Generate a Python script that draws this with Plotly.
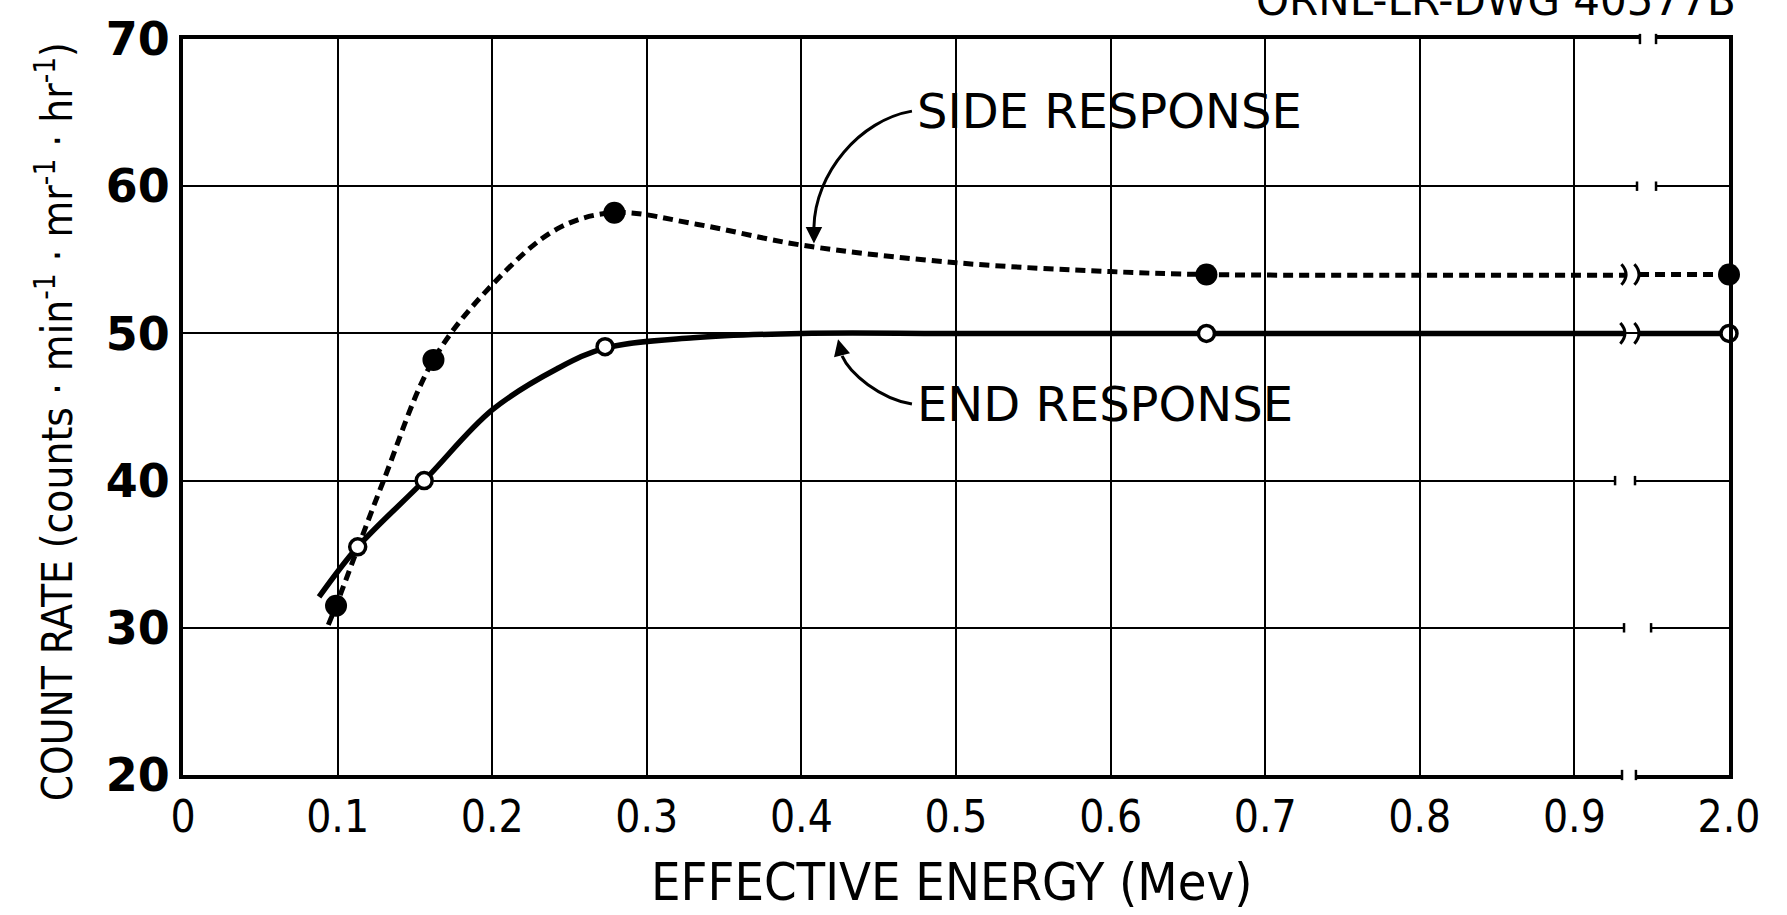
import plotly.graph_objects as go

# ---- axis ticks (the last tick stands for 2.0 MeV, beyond the axis break) ----
x_tick_pos = [0.0, 0.1, 0.2, 0.3, 0.4, 0.5, 0.6, 0.7, 0.8, 0.9, 1.0]
x_tick_labels = ["0", "0.1", "0.2", "0.3", "0.4", "0.5", "0.6", "0.7", "0.8", "0.9", "2.0"]
y_ticks = [20, 30, 40, 50, 60, 70]

# ---- measured points (MeV, counts/min per mr/hr) ----
side_energy = [0.099, 0.162, 0.279, 0.662, 2.0]
side_rate = [31.5, 48.2, 58.2, 54.0, 54.0]
end_energy = [0.113, 0.156, 0.273, 0.662, 2.0]
end_rate = [35.5, 40.0, 49.1, 50.0, 50.0]

# ---- faired curves through the points, left of the axis break ----
side_curve_energy = [0.094, 0.099, 0.129, 0.162, 0.200, 0.242, 0.279, 0.333, 0.400,
                     0.500, 0.600, 0.662, 0.800, 0.9334]
side_curve_rate = [30.2, 31.5, 39.8, 48.2, 53.3, 57.1, 58.2, 57.4, 56.0,
                   54.8, 54.2, 54.0, 53.95, 53.95]
end_curve_energy = [0.088, 0.113, 0.156, 0.200, 0.242, 0.273, 0.330, 0.400, 0.500,
                    0.662, 0.800, 0.9327]
end_curve_rate = [32.1, 35.5, 40.0, 44.8, 47.6, 49.0, 49.7, 50.0, 50.0,
                  50.0, 50.0, 50.0]

BREAK_AXIS_MAX = 1.0   # axis position of the 2.0 MeV tick


def axis_pos(e):
    """Map energy to axis position: values past the break sit at the 2.0 tick."""
    return BREAK_AXIS_MAX if e > 1.0 else e


# where each horizontal line is interrupted: (y, left end, right end)
grid_breaks = [(70, 0.9424, 0.9528), (60, 0.9405, 0.9528), (40, 0.9263, 0.9392),
               (30, 0.9321, 0.9496), (20, 0.9308, 0.9398)]
side_tail_start = 0.9418
end_tail_start = 0.9418

BLACK = "#000000"
COND = "DejaVu Sans Condensed, Liberation Sans Narrow, Roboto, sans-serif"
SANS = "DejaVu Sans, Liberation Sans, sans-serif"

fig = go.Figure()

# side response: dashed curve + filled points
fig.add_trace(go.Scatter(
    x=[axis_pos(e) for e in side_curve_energy], y=side_curve_rate,
    mode="lines", line=dict(color=BLACK, width=5, dash="10px,6px", shape="spline", smoothing=1.0),
    hoverinfo="skip", showlegend=False))
fig.add_trace(go.Scatter(
    x=[side_tail_start, axis_pos(side_energy[-1])], y=[side_rate[-1], side_rate[-1]],
    mode="lines", line=dict(color=BLACK, width=5, dash="10px,6px"),
    hoverinfo="skip", showlegend=False))

# end response: solid curve + open points
fig.add_trace(go.Scatter(
    x=[axis_pos(e) for e in end_curve_energy], y=end_curve_rate,
    mode="lines", line=dict(color=BLACK, width=5.5, shape="spline", smoothing=1.0),
    hoverinfo="skip", showlegend=False))
fig.add_trace(go.Scatter(
    x=[end_tail_start, axis_pos(end_energy[-1])], y=[end_rate[-1], end_rate[-1]],
    mode="lines", line=dict(color=BLACK, width=5.5),
    hoverinfo="skip", showlegend=False))

fig.add_trace(go.Scatter(
    x=[axis_pos(e) for e in side_energy], y=side_rate, mode="markers",
    marker=dict(size=22, color=BLACK, line=dict(width=0)),
    name="SIDE RESPONSE", showlegend=False, cliponaxis=False))
fig.add_trace(go.Scatter(
    x=[axis_pos(e) for e in end_energy], y=end_rate, mode="markers",
    marker=dict(size=16, color="white", line=dict(width=3.5, color=BLACK)),
    name="END RESPONSE", showlegend=False, cliponaxis=False))

shapes = []
# gaps in the grid / frame lines at the axis break
for yv, xl, xr in grid_breaks:
    if yv in (20, 70):
        yc = 0.0 if yv == 20 else 1.0
        shapes.append(dict(type="rect", xref="x", yref="paper", x0=xl, x1=xr,
                           y0=yc - 0.012, y1=yc + 0.012, fillcolor="white",
                           line=dict(width=0), layer="above"))
        for xv in (xl, xr):
            shapes.append(dict(type="line", xref="x", yref="paper", x0=xv, x1=xv,
                               y0=yc - 0.007, y1=yc + 0.007,
                               line=dict(color=BLACK, width=2.5), layer="above"))
    else:
        shapes.append(dict(type="rect", xref="x", yref="y", x0=xl, x1=xr,
                           y0=yv - 0.3, y1=yv + 0.3, fillcolor="white",
                           line=dict(width=0), layer="above"))
        for xv in (xl, xr):
            shapes.append(dict(type="line", xref="x", yref="y", x0=xv, x1=xv,
                               y0=yv - 0.32, y1=yv + 0.32,
                               line=dict(color=BLACK, width=2.5), layer="above"))

# ")" marks where the response curves are interrupted
curve_breaks = [(side_curve_energy[-1], side_rate[-1]), (side_tail_start, side_rate[-1]),
                (end_curve_energy[-1], end_rate[-1]), (end_tail_start, end_rate[-1])]
for xv, yv in curve_breaks:
    shapes.append(dict(type="path", xref="x", yref="y",
                       path=f"M {xv - 0.003},{yv + 0.7} Q {xv + 0.003},{yv} {xv - 0.003},{yv - 0.7}",
                       line=dict(color=BLACK, width=3), layer="above"))

# curved leader lines from the labels to the curves
shapes.append(dict(type="path", xref="x", yref="y",
                   path="M 0.4715,65.1 C 0.4379,64.5 0.4088,60.9 0.4081,57.2",
                   line=dict(color=BLACK, width=3)))
shapes.append(dict(type="path", xref="x", yref="y",
                   path="M 0.4715,45.2 C 0.4508,45.57 0.4314,47.25 0.4263,48.47",
                   line=dict(color=BLACK, width=3)))

annotations = [
    dict(x=0.4735, y=65.1, xref="x", yref="y", text="SIDE RESPONSE", showarrow=False,
         xanchor="left", yanchor="middle", font=dict(family=SANS, size=48, color=BLACK)),
    dict(x=0.4735, y=45.2, xref="x", yref="y", text="END RESPONSE", showarrow=False,
         xanchor="left", yanchor="middle", font=dict(family=SANS, size=48, color=BLACK)),
    # arrowheads at the ends of the leader lines
    dict(x=0.4081, y=56.1, xref="x", yref="y", ax=0, ay=-16, text="", showarrow=True,
         arrowhead=2, arrowsize=1.1, arrowwidth=3, arrowcolor=BLACK, standoff=0),
    dict(x=0.4237, y=49.6, xref="x", yref="y", ax=4, ay=16, text="", showarrow=True,
         arrowhead=2, arrowsize=1.1, arrowwidth=3, arrowcolor=BLACK, standoff=0),
    # axis titles
    dict(x=0.497, y=-0.1454, xref="paper", yref="paper", showarrow=False,
         text="EFFECTIVE ENERGY (Mev)", xanchor="center", yanchor="middle",
         font=dict(family=COND, size=52, color=BLACK)),
    dict(x=-0.0828, y=0.4805, xref="paper", yref="paper", showarrow=False, textangle=-90,
         text="COUNT RATE (counts · min<sup>-1</sup> · mr<sup>-1</sup> · hr<sup>-1</sup>)",
         xanchor="center", yanchor="middle",
         font=dict(family=COND, size=42, color=BLACK)),
    # drawing number
    dict(x=1.0058, y=1.052, xref="paper", yref="paper", showarrow=False,
         text="ORNL-LR-DWG 40577B", xanchor="right", yanchor="middle",
         font=dict(family=SANS, size=42, color=BLACK)),
]

fig.update_layout(
    width=1787, height=915,
    margin=dict(l=183, r=58, t=32, b=140),
    paper_bgcolor="white", plot_bgcolor="white",
    shapes=shapes, annotations=annotations,
    showlegend=False,
    xaxis=dict(range=[0, 1.0], tickmode="array", tickvals=x_tick_pos, ticktext=x_tick_labels,
               showgrid=True, gridcolor=BLACK, gridwidth=2,
               showline=True, linecolor=BLACK, linewidth=4, mirror=True,
               ticks="", ticklabelstandoff=0, zeroline=False,
               tickfont=dict(family=COND, size=44, color=BLACK), fixedrange=True),
    yaxis=dict(range=[20, 70], tickmode="array", tickvals=y_ticks,
               ticktext=[str(v) for v in y_ticks],
               showgrid=True, gridcolor=BLACK, gridwidth=2,
               showline=True, linecolor=BLACK, linewidth=4, mirror=True,
               ticks="", ticklabelstandoff=0, zeroline=False,
               tickfont=dict(family=SANS, size=46, color=BLACK, weight="bold"), fixedrange=True),
)

fig.write_html("out.html")
